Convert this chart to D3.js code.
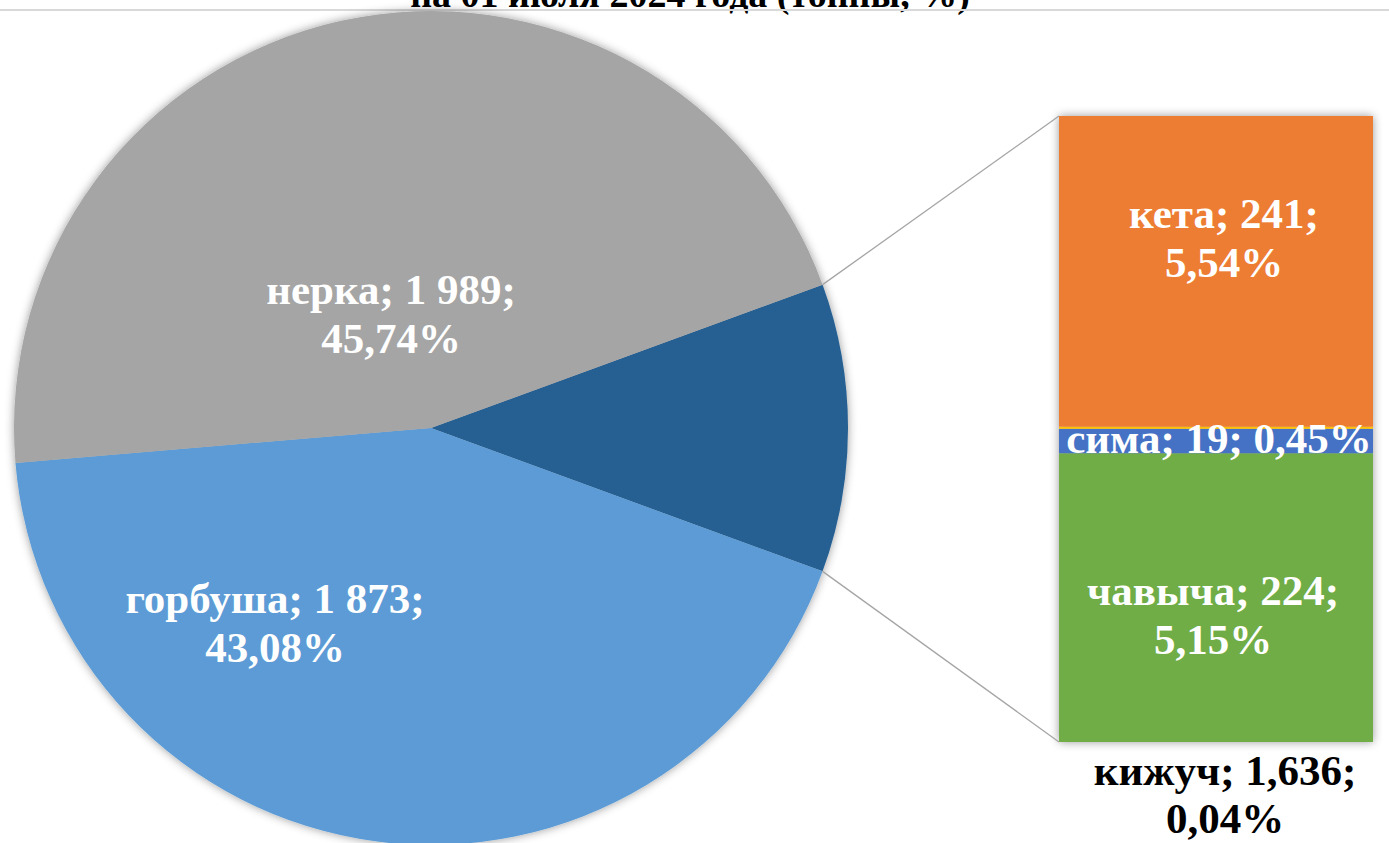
<!DOCTYPE html>
<html>
<head>
<meta charset="utf-8">
<script src="https://cdn.jsdelivr.net/npm/d3@7"></script>
<style>
  html, body { margin: 0; padding: 0; background: #fff; overflow: hidden; }
  svg { display: block; }
  text { font-family: "Liberation Serif", "Times New Roman", serif; font-weight: bold; }
</style>
</head>
<body>
<script>
// ---- data ----
const titleText = "на 01 июля 2024 года (тонны, %)";
const pieCategories = ["прочие", "горбуша", "нерка"];
const pieValues = [null, 1873, 1989];            // "прочие" = sum of the bar
const pieLabels1 = [null, "горбуша; 1 873;", "нерка; 1 989;"];
const pieLabels2 = [null, "43,08%", "45,74%"];
const pieColors = ["#255E91", "#5B9BD5", "#A5A5A5"];

const barCategories = ["чавыча", "сима", "кижуч", "кета"];   // bottom -> top
const barValues = [224, 19, 1.636, 241];
const barLabels1 = ["чавыча; 224;", "сима; 19; 0,45%", "кижуч; 1,636;", "кета; 241;"];
const barLabels2 = ["5,15%", "", "0,04%", "5,54%"];
const barColors = ["#70AD47", "#4472C4", "#FFC000", "#ED7D31"];

// ---- layout ----
const W = 1389, H = 843;
const svg = d3.select("body").append("svg").attr("width", W).attr("height", H);

const defs = svg.append("defs");
const f = defs.append("filter").attr("id", "sh")
  .attr("x", "-10%").attr("y", "-10%").attr("width", "120%").attr("height", "120%");
f.append("feDropShadow").attr("dx", 0).attr("dy", 0).attr("stdDeviation", 5)
  .attr("flood-color", "#000").attr("flood-opacity", 0.4);

// title (cut off at the top, as in the reference)
svg.append("text").attr("x", 690).attr("y", 7).attr("text-anchor", "middle")
  .attr("font-size", 38).attr("fill", "#000").text(titleText);
svg.append("line").attr("x1", 0).attr("x2", W).attr("y1", 10).attr("y2", 10)
  .attr("stroke", "#d9d9d9").attr("stroke-width", 2);

const otherTotal = d3.sum(barValues);
const values = pieValues.map((v, i) => v === null ? otherTotal : v);
const total = d3.sum(values);

const cx = 431, cy = 428, R = 417;
const otherAngle = otherTotal / total * 2 * Math.PI;
const pie = d3.pie().sort(null).value(d => d)
  .startAngle(Math.PI / 2 - otherAngle / 2)
  .endAngle(Math.PI / 2 - otherAngle / 2 + 2 * Math.PI);
const arcs = pie(values);
const arc = d3.arc().innerRadius(0).outerRadius(R);

const gPie = svg.append("g").attr("transform", `translate(${cx},${cy})`);
gPie.append("g").attr("filter", "url(#sh)")
  .selectAll("path").data(arcs).join("path")
  .attr("d", arc).attr("fill", (d, i) => pieColors[i]);

// bar
const bx0 = 1059, bx1 = 1373, by0 = 742, by1 = 116;
const y = d3.scaleLinear().domain([0, otherTotal]).range([by0, by1]);
const stacks = [];
let acc = 0;
barValues.forEach((v, i) => { stacks.push({ i, y0: acc, y1: acc + v }); acc += v; });

const gBar = svg.append("g");
gBar.append("g").attr("filter", "url(#sh)")
  .selectAll("rect").data(stacks).join("rect")
  .attr("x", bx0).attr("width", bx1 - bx0)
  .attr("y", d => y(d.y1)).attr("height", d => y(d.y0) - y(d.y1))
  .attr("fill", d => barColors[d.i]);

// connector lines
const a0 = arcs[0].startAngle, a1 = arcs[0].endAngle;
const pt = a => [cx + R * Math.sin(a), cy - R * Math.cos(a)];
const pTop = pt(a0), pBot = pt(a1);
svg.append("line").attr("x1", pTop[0]).attr("y1", pTop[1]).attr("x2", bx0).attr("y2", y(otherTotal))
  .attr("stroke", "#A5A5A5").attr("stroke-width", 1.3);
svg.append("line").attr("x1", pBot[0]).attr("y1", pBot[1]).attr("x2", bx0).attr("y2", y(0))
  .attr("stroke", "#A5A5A5").attr("stroke-width", 1.3);

// pie labels
const pieLabelPos = [null, [275, 613], [391, 304]];
const FS = 43, LH = 49;
arcs.forEach((d, i) => {
  if (!pieLabels1[i]) return;
  const t = svg.append("text").attr("text-anchor", "middle").attr("font-size", FS).attr("fill", "#fff");
  t.append("tspan").attr("x", pieLabelPos[i][0]).attr("y", pieLabelPos[i][1]).text(pieLabels1[i]);
  t.append("tspan").attr("x", pieLabelPos[i][0]).attr("y", pieLabelPos[i][1] + LH).text(pieLabels2[i]);
});

// bar labels
const barLabelPos = [[1213, 605], [1219, 453], [1225, 785], [1224, 228]];
const barLabelFill = ["#fff", "#fff", "#000", "#fff"];
stacks.forEach(d => {
  const i = d.i;
  const t = svg.append("text").attr("text-anchor", "middle").attr("font-size", FS).attr("fill", barLabelFill[i]);
  t.append("tspan").attr("x", barLabelPos[i][0]).attr("y", barLabelPos[i][1]).text(barLabels1[i]);
  if (barLabels2[i]) t.append("tspan").attr("x", barLabelPos[i][0]).attr("y", barLabelPos[i][1] + (i === 2 ? 48 : LH)).text(barLabels2[i]);
});
</script>
</body>
</html>
